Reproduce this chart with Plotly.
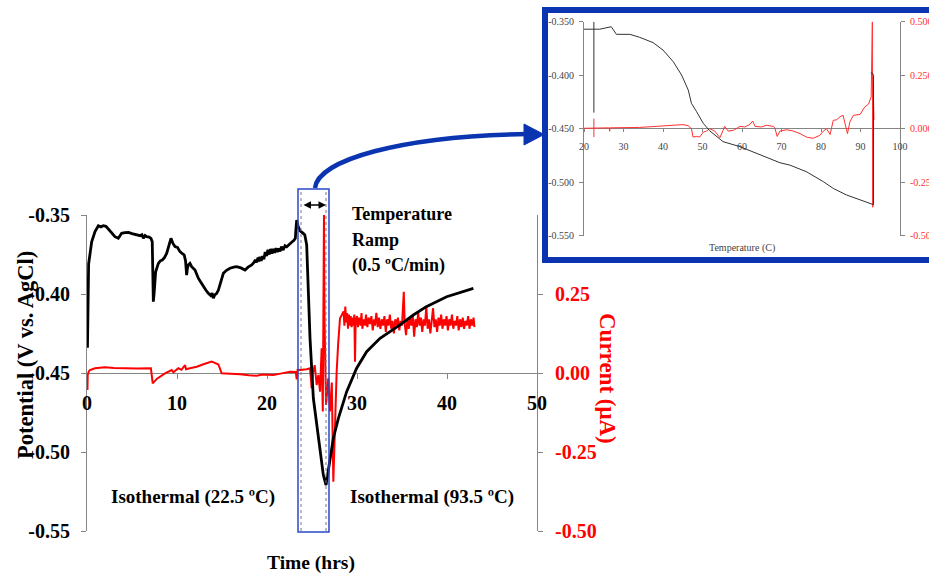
import plotly.graph_objects as go

W, H = 929, 575

# ---------------- main chart data (time in hrs) ----------------
time_pot = [0.05, 0.10, 0.18, 0.52, 0.89, 1.26, 1.55, 1.81, 2.1, 2.4, 2.8, 3.1, 3.48, 3.85, 4.2, 4.6,
            5.0, 5.33, 5.6, 5.9, 6.1, 6.26, 6.45, 6.63, 6.9, 7.11, 7.25, 7.33, 7.37, 7.45, 7.55, 7.63,
            7.93, 8.15, 8.37, 8.6, 8.85, 9.1, 9.33, 9.55, 9.78, 10.05, 10.33, 10.6, 10.8, 10.95, 11.07,
            11.15, 11.26, 11.44, 11.63, 12.0, 12.37, 12.65, 12.93, 13.2, 13.48, 13.75, 13.9, 14.04, 14.2,
            14.41, 14.6, 14.78, 14.95, 15.15, 15.5, 15.89, 16.3, 16.63, 17.1, 17.56, 17.9, 18.3, 18.55,
            18.7, 18.85, 19.0, 19.1, 19.2, 19.35, 19.5, 19.65, 19.8, 19.96, 20.1, 20.25, 20.4, 20.55,
            20.7, 20.85, 21.0, 21.15, 21.3, 21.45, 21.6, 21.8, 22.0, 22.19, 22.45, 22.74, 23.0, 23.15,
            23.2, 23.25, 23.3, 23.45, 23.67, 24.0, 24.2, 24.41, 24.78, 25.15, 25.7, 26.26, 26.56, 26.93,
            27.37, 27.93, 28.85, 29.96, 31.07, 32.56, 33.67, 34.78, 36.26, 37.7, 39.96, 41.5, 42.93]
potential = [-0.434, -0.395, -0.381, -0.367, -0.3605, -0.3568, -0.3575, -0.3568, -0.3572, -0.359, -0.362,
             -0.3637, -0.3647, -0.3616, -0.3612, -0.361, -0.3618, -0.3622, -0.3627, -0.3631, -0.3625,
             -0.3647, -0.363, -0.3637, -0.364, -0.3648, -0.3669, -0.395, -0.4049, -0.400, -0.390, -0.3859,
             -0.3806, -0.379, -0.3785, -0.377, -0.3743, -0.369, -0.3648, -0.368, -0.370, -0.3705, -0.3732,
             -0.3745, -0.3753, -0.379, -0.388, -0.384, -0.3816, -0.3806, -0.3827, -0.3848, -0.390, -0.3925,
             -0.3954, -0.3975, -0.3996, -0.401, -0.3995, -0.4027, -0.4005, -0.3996, -0.3975, -0.3943,
             -0.390, -0.3869, -0.385, -0.3837, -0.383, -0.3827, -0.3835, -0.3848, -0.383, -0.3816, -0.380,
             -0.3785, -0.380, -0.377, -0.3795, -0.3765, -0.379, -0.376, -0.378, -0.3735, -0.376, -0.372,
             -0.375, -0.3715, -0.3745, -0.3715, -0.374, -0.371, -0.3735, -0.3712, -0.373, -0.370, -0.3722,
             -0.3695, -0.3701, -0.3685, -0.3673, -0.366, -0.3648, -0.360, -0.3545, -0.3532, -0.357, -0.360,
             -0.3615, -0.3626, -0.369, -0.428, -0.466, -0.4913, -0.5146, -0.5209, -0.5082, -0.4913,
             -0.4787, -0.4618, -0.447, -0.4365, -0.428, -0.4238, -0.4196, -0.4133, -0.408, -0.4017,
             -0.399, -0.3964]

time_cur = [0.05, 0.08, 0.2, 0.33, 0.89, 2.0, 3.0, 4.0, 5.5, 7.1, 7.2, 7.3, 7.78, 8.67, 9.4, 9.6, 10.15,
            10.5, 10.9, 11.0, 11.44, 12.2, 12.93, 13.5, 13.85, 14.2, 14.6, 14.96, 16.0, 17.0, 18.0, 18.85,
            19.5, 20.7, 21.5, 22.56, 23.2, 23.3, 23.4, 23.67, 24.4, 24.78, 24.96, 25.1, 25.3, 25.52, 25.7,
            25.89, 26.07, 26.2, 26.33, 26.4, 26.56, 26.81, 27.0, 27.2, 27.37, 27.56, 27.74, 27.9, 28.11,
            28.3, 28.5, 28.6, 28.7, 28.8, 28.9, 29.0, 29.1, 29.2, 29.3, 29.4, 29.5, 29.6, 29.7, 29.78,
            29.85, 30.0, 30.1, 30.25, 30.4, 30.5, 30.6, 30.75, 30.9, 31.0, 31.15, 31.3, 31.45, 31.6,
            31.75, 31.9, 32.0, 32.15, 32.3, 32.45, 32.6, 32.75, 32.9, 33.05, 33.2, 33.35, 33.5, 33.65,
            33.8, 33.95, 34.1, 34.25, 34.4, 34.55, 34.7, 34.85, 35.0, 35.2, 35.3, 35.45, 35.6, 35.75,
            35.9, 36.05, 36.2, 36.35, 36.5, 36.65, 36.8, 36.95, 37.1, 37.25, 37.4, 37.55, 37.7, 37.85,
            38.0, 38.15, 38.3, 38.45, 38.6, 38.75, 38.9, 39.05, 39.2, 39.35, 39.5, 39.65, 39.8, 39.95,
            40.1, 40.25, 40.4, 40.55, 40.7, 40.85, 41.0, 41.15, 41.3, 41.45, 41.6, 41.75, 41.9, 42.05,
            42.2, 42.35, 42.5, 42.65, 42.8, 42.95, 43.05]
current = [-0.054, -0.006, 0.005, 0.0095, 0.015, 0.018, 0.016, 0.015, 0.014, 0.015, -0.005, -0.033, -0.018,
           -0.001, 0.0095, 0.002, 0.015, 0.010, 0.025, 0.012, 0.015, 0.020, 0.0275, 0.033, 0.036, 0.032,
           0.027, -0.001, -0.002, -0.004, -0.007, -0.0085, -0.005, -0.006, -0.002, 0.004, 0.003, -0.020,
           0.010, 0.0095, 0.012, 0.015, -0.048, 0.0, 0.025, -0.038, -0.006, -0.059, 0.078, -0.122, 0.5,
           0.162, -0.101, -0.017, -0.122, -0.03, -0.344, -0.142, 0.004, 0.089, 0.173, 0.183, 0.195, 0.150,
           0.210, 0.160, 0.190, 0.140, 0.185, 0.150, 0.180, 0.145, 0.175, 0.150, 0.185, 0.036, 0.165,
           0.180, 0.145, 0.175, 0.150, 0.190, 0.140, 0.170, 0.150, 0.185, 0.145, 0.175, 0.155, 0.180,
           0.135, 0.170, 0.150, 0.190, 0.145, 0.175, 0.140, 0.170, 0.150, 0.180, 0.130, 0.170, 0.150,
           0.185, 0.140, 0.165, 0.125, 0.170, 0.150, 0.175, 0.135, 0.165, 0.150, 0.257, 0.155, 0.120,
           0.170, 0.140, 0.175, 0.150, 0.180, 0.115, 0.170, 0.145, 0.190, 0.150, 0.175, 0.130, 0.170,
           0.150, 0.210, 0.140, 0.170, 0.125, 0.175, 0.205, 0.145, 0.170, 0.130, 0.175, 0.150, 0.185,
           0.140, 0.170, 0.150, 0.180, 0.135, 0.170, 0.150, 0.185, 0.140, 0.165, 0.150, 0.180, 0.135,
           0.170, 0.145, 0.175, 0.140, 0.165, 0.150, 0.180, 0.140, 0.170, 0.150, 0.175, 0.145]

time_ticks = [0, 10, 20, 30, 40, 50]
pot_ticks = [-0.55, -0.50, -0.45, -0.40, -0.35]
pot_ticktext = ["-0.55", "-0.50", "-0.45", "-0.40", "-0.35"]
cur_ticks = [-0.50, -0.25, 0.0, 0.25]
cur_ticktext = ["-0.50", "-0.25", "0.00", "0.25"]

# ---------------- inset data (temperature in C) ----------------
temp_pot = [22.5, 22.5, None, 20.0, 24.0, 26.9, 27.3, 28.2, 31.6, 34.1, 37.5, 40.0, 42.6, 44.7, 46.4,
            47.2, 48.5, 50.2, 51.8, 55.2, 59.5, 63.7, 67.9, 69.6, 72.1, 76.3, 80.6, 83.1, 86.5, 89.9,
            93.0, 93.3, 93.3, 93.0, 92.6]
inset_potential = [-0.435, -0.350, None, -0.357, -0.357, -0.3547, -0.357, -0.3618, -0.3618, -0.3646,
                   -0.3696, -0.3765, -0.3874, -0.3998, -0.4139, -0.4263, -0.4341, -0.445, -0.4519,
                   -0.4621, -0.4668, -0.473, -0.4793, -0.4818, -0.484, -0.4902, -0.4995, -0.5058,
                   -0.512, -0.5167, -0.5204, -0.521, -0.400, -0.398, -0.398]
temp_cur = [22.5, 22.5, None, 20.0, 26.4, 26.5, 26.6, 34.1, 42.6, 45.1, 46.4, 47.2, 47.6, 48.5, 49.3,
            50.2, 51.0, 51.8, 53.1, 54.4, 55.2, 55.6, 56.5, 57.8, 59.5, 60.7, 62.0, 62.7, 63.3, 64.9,
            66.2, 67.9, 68.3, 68.9, 69.6, 71.3, 73.0, 74.7, 76.3, 78.0, 79.7, 80.6, 81.4, 82.3, 83.1,
            84.0, 84.8, 85.6, 86.1, 86.7, 87.3, 88.2, 89.9, 91.1, 92.0, 92.7, 93.0, 93.1, 93.2, 93.4]
inset_current = [0.047, -0.039, None, 0.002, 0.004, -0.012, 0.004, 0.006, 0.016, 0.019, 0.014, 0.0,
                 -0.039, -0.036, -0.039, -0.016, -0.011, 0.0, -0.011, -0.042, -0.008, 0.011, -0.011,
                 -0.008, 0.011, 0.008, 0.020, 0.036, 0.011, 0.008, 0.016, 0.011, 0.005, -0.036, -0.011,
                 -0.005, -0.011, -0.023, -0.039, -0.045, -0.031, -0.011, 0.0, -0.027, 0.039, 0.042,
                 0.055, 0.0625, 0.023, -0.023, 0.031, 0.0625, 0.067, 0.102, 0.114, 0.148, 0.5, -0.367,
                 0.211, 0.04]

temp_ticks = [20, 30, 40, 50, 60, 70, 80, 90, 100]
inset_pot_ticks = [-0.55, -0.50, -0.45, -0.40, -0.35]
inset_pot_ticktext = ["-0.550", "-0.500", "-0.450", "-0.400", "-0.350"]
inset_cur_ticks = [-0.5, -0.25, 0.0, 0.25, 0.5]
inset_cur_ticktext = ["-0.500", "-0.250", "0.000", "0.250", "0.500"]


def px(x):
    return x / W


def py(y):
    return 1 - y / H


SERIF = "Liberation Serif"
GREY = "#858585"
BLUE = "#0b35b0"

fig = go.Figure()
# main chart: current on base axis (y), potential on overlaying axis (y2) so black is drawn on top
fig.add_trace(go.Scatter(x=time_cur, y=current, mode="lines", line=dict(color="#ff0000", width=2),
                         xaxis="x", yaxis="y", showlegend=False))
fig.add_trace(go.Scatter(x=time_pot, y=potential, mode="lines", line=dict(color="black", width=2.8),
                         xaxis="x", yaxis="y2", showlegend=False))
# inset
fig.add_trace(go.Scatter(x=temp_cur, y=inset_current, mode="lines", line=dict(color="#ff3030", width=1),
                         xaxis="x2", yaxis="y3", showlegend=False, connectgaps=False))
fig.add_trace(go.Scatter(x=temp_pot, y=inset_potential, mode="lines", line=dict(color="#333333", width=1),
                         xaxis="x2", yaxis="y4", showlegend=False, connectgaps=False))

bold = dict(family=SERIF, size=20, color="black", weight="bold")
common = dict(showline=True, linecolor=GREY, linewidth=1, showgrid=False, zeroline=False,
              automargin=False, layer="below traces", tickcolor=GREY, ticks="outside")

fig.update_layout(
    template="none",
    width=W, height=H,
    margin=dict(l=0, r=0, t=0, b=0, pad=0),
    paper_bgcolor="white", plot_bgcolor="rgba(0,0,0,0)",
    xaxis=dict(domain=[px(87), px(537)], range=[0, 50], anchor="free", position=py(373),
               tickvals=time_ticks, ticklen=5, tickfont=bold, ticklabelstandoff=7, **common),
    yaxis=dict(domain=[py(531), py(215)], range=[-0.5, 0.5], anchor="x", side="right",
               tickvals=cur_ticks, ticktext=cur_ticktext, ticklen=5,
               tickfont=dict(family=SERIF, size=20, color="#ff0000", weight="bold"),
               ticklabelstandoff=8, **common),
    yaxis2=dict(range=[-0.55, -0.35], overlaying="y", anchor="x", side="left",
                tickvals=pot_ticks, ticktext=pot_ticktext, ticklen=5,
                tickfont=bold, ticklabelstandoff=7, **common),
    xaxis2=dict(domain=[px(584), px(900)], range=[20, 100], anchor="free", position=py(128.3),
                tickvals=temp_ticks, ticklen=3,
                tickfont=dict(family=SERIF, size=10, color="#444444"), ticklabelstandoff=6, **common),
    yaxis3=dict(domain=[py(235.7), py(21.7)], range=[-0.5, 0.5], anchor="x2", side="right",
                tickvals=inset_cur_ticks, ticktext=inset_cur_ticktext, ticklen=4,
                tickfont=dict(family=SERIF, size=10, color="#ff3030"), ticklabelstandoff=3, **common),
    yaxis4=dict(range=[-0.55, -0.35], overlaying="y3", anchor="x2", side="left",
                tickvals=inset_pot_ticks, ticktext=inset_pot_ticktext, ticklen=4,
                tickfont=dict(family=SERIF, size=10, color="#444444"), ticklabelstandoff=3, **common),
)

ann = []


def text(x, y, s, size=19, color="black", angle=0, xanchor="center", weight="bold"):
    ann.append(dict(x=px(x), y=py(y), xref="paper", yref="paper", text=s, showarrow=False,
                    textangle=angle, xanchor=xanchor, yanchor="middle",
                    font=dict(family=SERIF, size=size, color=color, weight=weight)))


text(25, 355, "Potential (V vs. AgCl)", size=22.5, angle=-90)
text(608, 378, "Current (\u03bcA)", size=23, color="#ff0000", angle=90)
text(311, 563, "Time (hrs)", size=19.5)
text(193, 497, "Isothermal (22.5 \u00baC)", size=19)
text(432, 497, "Isothermal (93.5 \u00baC)", size=19)
text(350, 214, "Temperature", size=18, xanchor="left")
text(350, 240, "Ramp", size=18, xanchor="left")
text(350, 265, "(0.5 \u00baC/min)", size=18, xanchor="left")
text(742, 248, "Temperature (C)", size=10, color="#444444", weight="normal")

# double-headed arrow over the ramp window
ann.append(dict(x=px(326), y=py(205), xref="paper", yref="paper", ax=-24, ay=0, text="",
                showarrow=True, arrowhead=2, startarrowhead=2, arrowside="end+start",
                arrowsize=1, arrowwidth=1.5, arrowcolor="black"))
fig.update_layout(annotations=ann)

shapes = []
# ramp window box
shapes.append(dict(type="rect", xref="paper", yref="paper", x0=px(298), x1=px(329), y0=py(532), y1=py(189),
                   line=dict(color="#2a48c8", width=1.5)))
for xv in (301, 326):
    shapes.append(dict(type="line", xref="paper", yref="paper", x0=px(xv), x1=px(xv), y0=py(531), y1=py(190),
                       line=dict(color="#777777", width=1, dash="dot")))
# curved arrow to inset
curve = "M {},{} C {},{} {},{} {},{}".format(px(315), py(188), px(318), py(160), px(400), py(136),
                                               px(528), py(134))
shapes.append(dict(type="path", xref="paper", yref="paper", path=curve,
                   line=dict(color=BLUE, width=4.5)))
head = "M {},{} L {},{} L {},{} Z".format(px(524), py(124), px(544), py(134.5), px(524), py(145))
shapes.append(dict(type="path", xref="paper", yref="paper", path=head, fillcolor=BLUE,
                   line=dict(color=BLUE, width=1)))
# inset frame
shapes.append(dict(type="rect", xref="paper", yref="paper", x0=px(545), x1=px(945), y0=py(260), y1=py(10),
                   line=dict(color=BLUE, width=6)))
fig.update_layout(shapes=shapes)

fig.write_html("out.html", config={"displayModeBar": False},
               post_script="document.body.style.margin='0';document.body.style.overflow='hidden';")
